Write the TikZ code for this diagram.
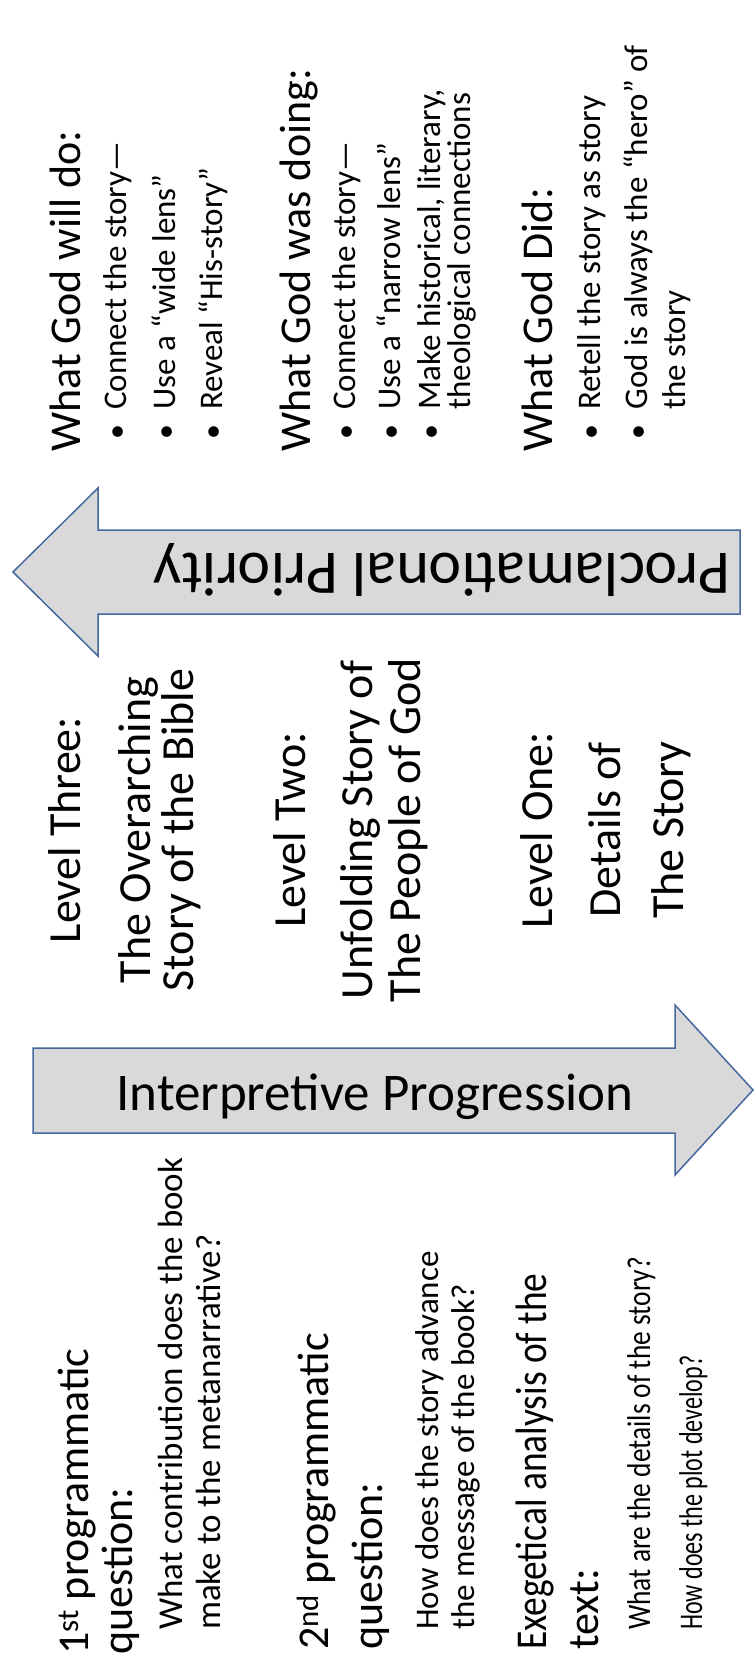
\documentclass[tikz,border=0pt]{standalone}
\usepackage{fontspec}
\usepackage{graphicx}
\setmainfont{Carlito}

\definecolor{boxgray}{RGB}{217,217,217}
\definecolor{boxline}{RGB}{70,104,158}

\begin{document}
\begin{tikzpicture}[x=1pt,y=-1pt,
		head/.style={rotate=90, anchor=base west, inner sep=0pt, font=\fontsize{44}{52}\selectfont},
		sub/.style={rotate=90, anchor=base west, inner sep=0pt, font=\fontsize{33}{38}\selectfont},
		lvl/.style={rotate=90, anchor=base, inner sep=0pt, font=\fontsize{46}{54}\selectfont},
		dot/.style={rotate=90, anchor=base, inner sep=0pt, font=\fontsize{30}{36}\selectfont},
		bigarrow/.style={fill=boxgray, draw=boxline, line width=1.5pt, line join=miter}]
		
		\useasboundingbox (0,0) rectangle (754,1669);
		
		% Proclamational arrow (points left)
		\draw[bigarrow] (98,530) -- (740,530) -- (740,614) -- (98,614) -- (98,656) -- (13,572) -- (98,488) -- cycle;
		\node[rotate=180, anchor=base, inner sep=0pt, font=\fontsize{62}{70}\selectfont] (procl) at (442,553) {Proclamational Priority};
		
		% Interpretive arrow (points right)
		\draw[bigarrow] (33,1048) -- (675,1048) -- (675,1005) -- (753,1090) -- (675,1175) -- (675,1133) -- (33,1133) -- cycle;
		\node[anchor=base, inner sep=0pt, font=\fontsize{53}{60}\selectfont] (interp) at (375,1110) {Interpretive Progression};
		
		% Questions
		\node[head] (q1a) at (88,1655) {1\textsuperscript{st} programmatic};
		\node[head] (q1b) at (132,1655) {question:};
		\node[sub, font=\fontsize{35}{40}\selectfont] (q1c) at (182,1630) {What contribution does the book};
		\node[sub, font=\fontsize{35}{40}\selectfont] (q1d) at (220,1630) {make to the metanarrative?};
		\node[head] (q2a) at (328,1650) {2\textsuperscript{nd} programmatic};
		\node[head] (q2b) at (382,1650) {question:};
		\node[sub] (q2c) at (438,1630) {How does the story advance};
		\node[sub] (q2d) at (474,1630) {the message of the book?};
		\node[head] (q3a) at (546,1650) {\scalebox{0.85}[1]{Exegetical analysis of the}};
		\node[head] (q3b) at (598,1650) {text:};
		\node[sub] (q3c) at (650,1630) {\scalebox{0.83}[1]{What are the details of the story?}};
		\node[sub] (q3d) at (702,1630) {\scalebox{0.73}[1]{How does the plot develop?}};
		
		% Levels
		\node[lvl] (l3a) at (80,830) {Level Three:};
		\node[lvl] (l3b) at (150,830) {The Overarching};
		\node[lvl] (l3c) at (193,830) {Story of the Bible};
		\node[lvl] (l2a) at (305,830) {Level Two:};
		\node[lvl] (l2b) at (372,830) {Unfolding Story of};
		\node[lvl] (l2c) at (420,830) {The People of God};
		\node[lvl] (l1a) at (552,830) {Level One:};
		\node[lvl] (l1b) at (620,830) {Details of};
		\node[lvl] (l1c) at (683,830) {The Story};
		
		% What God did
		\node[head] (g3) at (80,452) {What God will do:};
		\foreach \bx/\btext [count=\i] in {126/Connect the story—, 175/Use a “wide lens”, 222/Reveal “His-story”}{
			\node[dot] (g3d\i) at (\bx,432) {•};
			\node[sub] (g3t\i) at (\bx,410) {\btext};
		}
		\node[head] (g2) at (310,452) {What God was doing:};
		\foreach \bx/\btext [count=\i] in {355/Connect the story—, 400/Use a “narrow lens”, 440/{Make historical, literary,}}{
			\node[dot] (g2d\i) at (\bx,432) {•};
			\node[sub] (g2t\i) at (\bx,410) {\btext};
		}
		\node[sub] (g2t4) at (470,410) {theological connections};
		\node[head] (g1) at (552,452) {What God Did:};
		\foreach \bx/\btext [count=\i] in {600/Retell the story as story, 647/God is always the “hero” of}{
			\node[dot] (g1d\i) at (\bx,432) {•};
			\node[sub] (g1t\i) at (\bx,410) {\btext};
		}
		\node[sub] (g1t3) at (685,410) {the story};
	\end{tikzpicture}
\end{document}
